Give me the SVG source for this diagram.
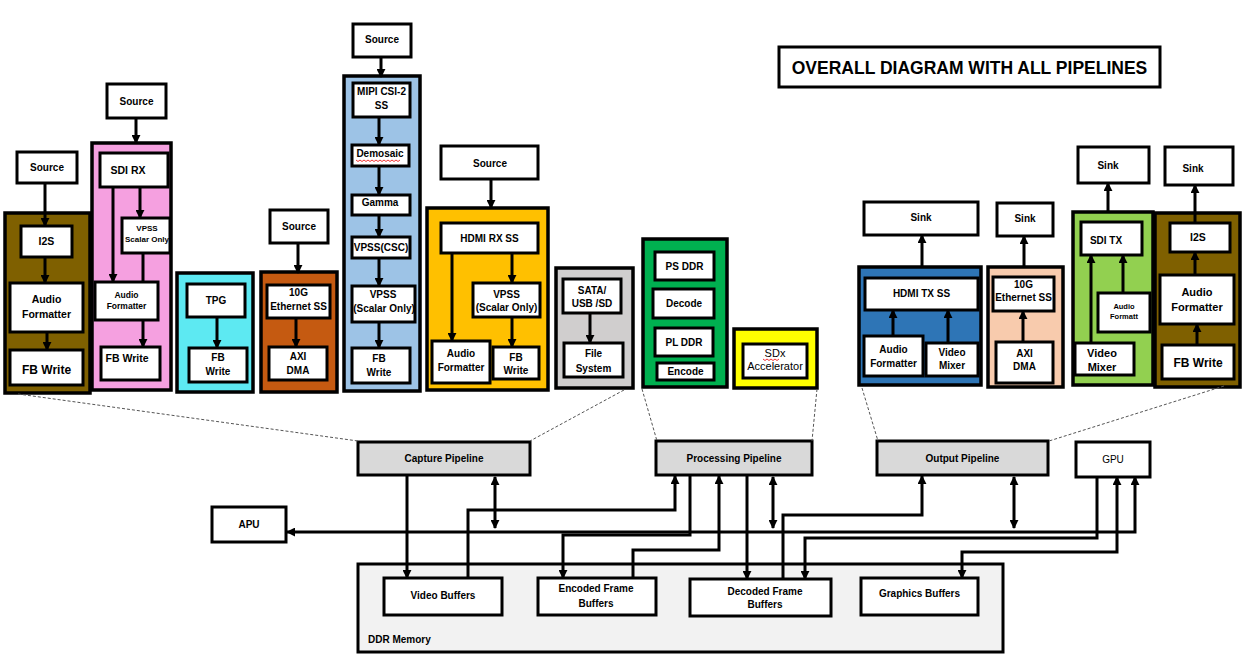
<svg xmlns="http://www.w3.org/2000/svg" width="1246" height="663" viewBox="0 0 1246 663">
<style>
.c{stroke:#000;stroke-width:3.5}
.b{fill:#fff;stroke:#000;stroke-width:3}
.p{fill:#d9d9d9;stroke:#000;stroke-width:3}
.t{font-family:"Liberation Sans",Arial,sans-serif;font-weight:bold;font-size:10px;fill:#000;text-anchor:middle}
.r{font-weight:normal}
.w{stroke:#000;stroke-width:3;fill:none}
.a{marker-end:url(#ah)}
.bi{marker-start:url(#ah);marker-end:url(#ah)}
.d{stroke:#555;stroke-width:1;stroke-dasharray:3 2;fill:none}
.sq{stroke:#e00;stroke-width:0.8;fill:none}
</style>
<defs>
<marker id="ah" viewBox="0 0 10 10" refX="9" refY="5" markerWidth="9" markerHeight="9" markerUnits="userSpaceOnUse" orient="auto-start-reverse"><path d="M0,0 L10,5 L0,10 z" fill="#000"/></marker>
</defs>
<rect width="1246" height="663" fill="#fff"/>

<g id="title"><rect x="779" y="47" width="381" height="40" class="b" stroke-width="2.5"/><text class="t" x="969.5" y="73.5" style="font-size:17.5px">OVERALL DIAGRAM WITH ALL PIPELINES</text></g>

<!-- I2S capture -->
<g id="src-i2s"><rect x="17" y="152" width="60" height="31" class="b"/><text class="t" x="47" y="171">Source</text></g>
<g id="i2s-capture">
<rect x="5" y="213" width="85" height="180" class="c" fill="#7f6000"/>
<g id="i2s-in"><rect x="21" y="226" width="51" height="31" class="b"/><text class="t" x="46.5" y="245" style="font-size:10.5px">I2S</text></g>
<g id="af-in1"><rect x="10" y="283" width="73" height="49" class="b"/><text class="t" x="46.5" y="303" style="font-size:10.5px">Audio</text><text class="t" x="46.5" y="317.5" style="font-size:10.5px">Formatter</text></g>
<g id="fbw-i2s"><rect x="10" y="350" width="73" height="35" class="b"/><text class="t" x="46.5" y="373.5" style="font-size:12px">FB Write</text></g>
</g>

<!-- SDI RX -->
<g id="src-sdi"><rect x="107" y="84" width="59" height="34" class="b"/><text class="t" x="136.5" y="104.5">Source</text></g>
<g id="sdi-capture">
<rect x="92" y="143" width="79" height="247" class="c" fill="#f5a0e0"/>
<g id="sdi-rx"><rect x="100" y="153" width="68" height="34" class="b"/><text class="t" x="128" y="174" style="font-size:10.5px">SDI RX</text></g>
<g id="vpss-sdi"><rect x="122" y="218" width="48" height="35" class="b"/><text class="t" x="147" y="231" style="font-size:8px">VPSS</text><text class="t" x="147" y="242" style="font-size:8px">Scalar Only</text></g>
<g id="af-sdi"><rect x="95" y="282" width="63" height="38" class="b"/><text class="t" x="126.5" y="298" style="font-size:8.5px">Audio</text><text class="t" x="126.5" y="309" style="font-size:8.5px">Formatter</text></g>
<g id="fbw-sdi"><rect x="101" y="347" width="59" height="33" class="b"/><text class="t" x="127" y="361.5" style="font-size:10.5px">FB Write</text></g>
</g>

<!-- TPG -->
<g id="tpg-capture">
<rect x="177" y="273" width="76" height="119" class="c" fill="#5de9f2"/>
<g id="tpg"><rect x="187" y="284" width="58" height="33" class="b"/><text class="t" x="216" y="304">TPG</text></g>
<g id="fbw-tpg"><rect x="189" y="348" width="58" height="34" class="b"/><text class="t" x="218" y="360.5">FB</text><text class="t" x="218" y="374.5">Write</text></g>
</g>

<!-- 10G capture -->
<g id="src-eth"><rect x="270" y="210" width="58" height="33" class="b"/><text class="t" x="299" y="230">Source</text></g>
<g id="eth-capture">
<rect x="261" y="272" width="76" height="120" class="c" fill="#c55a11"/>
<g id="eth-in"><rect x="267" y="285" width="63" height="33" class="b"/><text class="t" x="298.5" y="295.5">10G</text><text class="t" x="298.5" y="309.5">Ethernet SS</text></g>
<g id="axi-in"><rect x="269" y="347" width="58" height="33" class="b"/><text class="t" x="298" y="359.5">AXI</text><text class="t" x="298" y="373.5">DMA</text></g>
</g>

<!-- MIPI -->
<g id="src-mipi"><rect x="353" y="24" width="58" height="33" class="b"/><text class="t" x="382" y="43">Source</text></g>
<g id="mipi-capture">
<rect x="344" y="76" width="76" height="315" class="c" fill="#9dc3e6"/>
<g id="mipi"><rect x="353" y="83" width="57" height="34" class="b"/><text class="t" x="381.5" y="94.5">MIPI CSI-2</text><text class="t" x="381.5" y="108.5">SS</text></g>
<g id="demosaic"><rect x="352" y="145" width="57" height="21" class="b"/><text class="t" x="380" y="156.5">Demosaic</text><path class="sq" d="M356,160 l2,1.5 l2,-1.5 l2,1.5 l2,-1.5 l2,1.5 l2,-1.5 l2,1.5 l2,-1.5 l2,1.5 l2,-1.5 l2,1.5 l2,-1.5 l2,1.5 l2,-1.5 l2,1.5 l2,-1.5 l2,1.5 l2,-1.5 l2,1.5 l2,-1.5 l2,1.5 l2,-1.5"/></g>
<g id="gamma"><rect x="352" y="195" width="58" height="20" class="b"/><text class="t" x="380" y="205.5">Gamma</text></g>
<g id="vpss-csc"><rect x="352" y="237" width="58" height="21" class="b"/><text class="t" x="381" y="250.5">VPSS(CSC)</text></g>
<g id="vpss-mipi"><rect x="352" y="286" width="63" height="36" class="b"/><text class="t" x="383" y="297.5">VPSS</text><text class="t" x="384" y="311.5">(Scalar Only)</text></g>
<g id="fbw-mipi"><rect x="352" y="348" width="58" height="35" class="b"/><text class="t" x="379" y="361.5">FB</text><text class="t" x="379" y="375.5">Write</text></g>
</g>

<!-- HDMI RX -->
<g id="src-hdmi"><rect x="441" y="146" width="97" height="33" class="b"/><text class="t" x="490" y="166.5">Source</text></g>
<g id="hdmi-capture">
<rect x="427" y="208" width="121" height="182" class="c" fill="#ffc000"/>
<g id="hdmi-rx"><rect x="441" y="223" width="97" height="30" class="b"/><text class="t" x="489.5" y="241.5">HDMI RX SS</text></g>
<g id="vpss-hdmi"><rect x="473" y="283" width="67" height="34" class="b"/><text class="t" x="506.5" y="297.5">VPSS</text><text class="t" x="506.5" y="310.5">(Scalar Only)</text></g>
<g id="af-hdmi"><rect x="432" y="341" width="58" height="42" class="b"/><text class="t" x="461" y="356.5">Audio</text><text class="t" x="461" y="370.5">Formatter</text></g>
<g id="fbw-hdmi"><rect x="493" y="347" width="46" height="32" class="b"/><text class="t" x="516" y="360.5">FB</text><text class="t" x="516" y="373.5">Write</text></g>
</g>

<!-- SATA -->
<g id="sata-capture">
<rect x="556" y="268" width="77" height="120" class="c" fill="#d0cece"/>
<g id="sata"><rect x="563" y="279" width="58" height="34" class="b"/><text class="t" x="592" y="293.5">SATA/</text><text class="t" x="592" y="306.5">USB /SD</text></g>
<g id="filesystem"><rect x="564" y="343" width="59" height="34" class="b"/><text class="t" x="593.5" y="356.5">File</text><text class="t" x="593.5" y="371.5">System</text></g>
</g>

<!-- Processing -->
<g id="proc-group">
<rect x="643" y="239" width="84" height="148" class="c" fill="#00b050"/>
<g id="ps-ddr"><rect x="655" y="252" width="59" height="28" class="b"/><text class="t" x="684.5" y="269.5">PS DDR</text></g>
<g id="decode"><rect x="653" y="289" width="61" height="29" class="b"/><text class="t" x="684" y="307">Decode</text></g>
<g id="pl-ddr"><rect x="655" y="328" width="58" height="28" class="b"/><text class="t" x="684" y="345.5">PL DDR</text></g>
<g id="encode"><rect x="657" y="363" width="57" height="17" class="b"/><text class="t" x="685.5" y="375">Encode</text></g>
</g>
<g id="sdx-group">
<rect x="734" y="329" width="83" height="59" class="c" fill="#ffff00"/>
<g id="sdx"><rect x="743" y="344" width="64" height="34" class="b"/><text class="t r" x="775" y="357" style="font-size:11px">SDx</text><path class="sq" d="M763,359 l2,1.5 l2,-1.5 l2,1.5 l2,-1.5 l2,1.5 l2,-1.5 l2,1.5 l2,-1.5"/><text class="t r" x="775" y="370" style="font-size:11px">Accelerator</text></g>
</g>

<!-- HDMI TX -->
<g id="sink-hdmi"><rect x="864" y="202" width="114" height="33" class="b"/><text class="t" x="921" y="221">Sink</text></g>
<g id="hdmi-output">
<rect x="859" y="267" width="122" height="118" class="c" fill="#2e75b6"/>
<g id="hdmi-tx"><rect x="865" y="278" width="113" height="32" class="b"/><text class="t" x="921.5" y="297">HDMI TX SS</text></g>
<g id="af-tx"><rect x="864" y="336" width="59" height="40" class="b"/><text class="t" x="893.5" y="352.5">Audio</text><text class="t" x="893.5" y="366.5">Formatter</text></g>
<g id="vm-tx"><rect x="926" y="343" width="52" height="33" class="b"/><text class="t" x="952" y="355.5">Video</text><text class="t" x="952" y="368.5">Mixer</text></g>
</g>

<!-- 10G out -->
<g id="sink-eth"><rect x="997" y="203" width="56" height="33" class="b"/><text class="t" x="1025" y="222">Sink</text></g>
<g id="eth-output">
<rect x="988" y="267" width="75" height="120" class="c" fill="#f8cbad"/>
<g id="eth-out"><rect x="993" y="277" width="61" height="34" class="b"/><text class="t" x="1023.5" y="287.5">10G</text><text class="t" x="1023.5" y="300.5">Ethernet SS</text></g>
<g id="axi-out"><rect x="996" y="342" width="57" height="41" class="b"/><text class="t" x="1024.5" y="356.5">AXI</text><text class="t" x="1024.5" y="369.5">DMA</text></g>
</g>

<!-- SDI TX -->
<g id="sink-sdi"><rect x="1078" y="147" width="71" height="36" class="b"/><text class="t" x="1108" y="168.5">Sink</text></g>
<g id="sdi-output">
<rect x="1073" y="212" width="80" height="173" class="c" fill="#92d050"/>
<g id="sdi-tx"><rect x="1081" y="222" width="61" height="33" class="b"/><text class="t" x="1106" y="243.5">SDI TX</text></g>
<g id="af-sditx"><rect x="1098" y="293" width="52" height="39" class="b"/><text class="t" x="1124" y="308.5" style="font-size:7.5px">Audio</text><text class="t" x="1124" y="318.5" style="font-size:7.5px">Formatt</text></g>
<g id="vm-sditx"><rect x="1075" y="343" width="59" height="32" class="b"/><text class="t" x="1102" y="357" style="font-size:11px">Video</text><text class="t" x="1102" y="371" style="font-size:11px">Mixer</text></g>
</g>

<!-- I2S out -->
<g id="sink-i2s"><rect x="1165" y="147" width="68" height="38" class="b"/><text class="t" x="1193" y="171.5">Sink</text></g>
<g id="i2s-output">
<rect x="1155" y="213" width="85" height="174" class="c" fill="#7f6000"/>
<g id="i2s-out"><rect x="1170" y="223" width="60" height="29" class="b"/><text class="t" x="1198" y="241" style="font-size:10.5px">I2S</text></g>
<g id="af-out"><rect x="1160" y="275" width="74" height="49" class="b"/><text class="t" x="1197" y="296" style="font-size:11px">Audio</text><text class="t" x="1197" y="311" style="font-size:11px">Formatter</text></g>
<g id="fbw-out"><rect x="1162" y="345" width="72" height="34" class="b"/><text class="t" x="1198" y="366.5" style="font-size:12px">FB Write</text></g>
</g>

<!-- bottom -->
<g id="capture-pipeline"><rect x="358" y="442" width="172" height="33" class="p"/><text class="t" x="444" y="462">Capture Pipeline</text></g>
<g id="processing-pipeline"><rect x="656" y="441" width="156" height="34" class="p"/><text class="t" x="734" y="461.5">Processing Pipeline</text></g>
<g id="output-pipeline"><rect x="877" y="441" width="171" height="34" class="p"/><text class="t" x="962.5" y="461.5">Output Pipeline</text></g>
<g id="gpu"><rect x="1076" y="442" width="74" height="35" class="b"/><text class="t r" x="1113" y="463">GPU</text></g>
<g id="apu"><rect x="212" y="507" width="74" height="35" class="b"/><text class="t" x="249" y="528">APU</text></g>
<g id="ddr-memory">
<rect x="358" y="564" width="645" height="88" fill="#f2f2f2" stroke="#000" stroke-width="3"/>
<text class="t" x="368" y="643" style="text-anchor:start">DDR Memory</text>
<g id="video-buffers"><rect x="384" y="578" width="118" height="37" class="b"/><text class="t" x="443" y="599">Video Buffers</text></g>
<g id="encoded-buffers"><rect x="538" y="578" width="118" height="37" class="b"/><text class="t" x="596" y="591.5">Encoded Frame</text><text class="t" x="596" y="606.5">Buffers</text></g>
<g id="decoded-buffers"><rect x="690" y="579" width="141" height="37" class="b"/><text class="t" x="765" y="594.5">Decoded Frame</text><text class="t" x="765" y="607.5">Buffers</text></g>
<g id="graphics-buffers"><rect x="861" y="578" width="117" height="37" class="b"/><text class="t" x="919.5" y="596.5">Graphics Buffers</text></g>
</g>

<g id="connectors">
<!-- top arrows -->
<path class="w a" d="M45,183 V226"/>
<path class="w a" d="M45,257 V283"/>
<path class="w a" d="M47,332 V350"/>
<path class="w a" d="M136,118 V143"/>
<path class="w a" d="M113,187 V282"/>
<path class="w a" d="M140,187 V218"/>
<path class="w" d="M143,253 V282"/>
<path class="w a" d="M143,320 V347"/>
<path class="w a" d="M217,317 V348"/>
<path class="w a" d="M298,243 V273"/>
<path class="w a" d="M296,318 V347"/>
<path class="w a" d="M381,57 V77"/>
<path class="w a" d="M379,117 V145"/>
<path class="w a" d="M379,166 V195"/>
<path class="w a" d="M379,215 V237"/>
<path class="w a" d="M379,258 V286"/>
<path class="w a" d="M379,322 V348"/>
<path class="w a" d="M491,179 V208"/>
<path class="w a" d="M452,253 V341"/>
<path class="w a" d="M512,253 V283"/>
<path class="w a" d="M512,317 V347"/>
<path class="w a" d="M590,313 V343"/>
<path class="w a" d="M922,267 V235"/>
<path class="w a" d="M893,336 V310"/>
<path class="w a" d="M948,343 V310"/>
<path class="w a" d="M1024,267 V236"/>
<path class="w a" d="M1023,342 V311"/>
<path class="w a" d="M1108,212 V183"/>
<path class="w a" d="M1091,343 V255"/>
<path class="w a" d="M1123,293 V255"/>
<path class="w a" d="M1195,223 V185"/>
<path class="w a" d="M1195,275 V252"/>
<path class="w a" d="M1197,345 V324"/>
<!-- dashed -->
<path class="d" d="M18,394 L358,441"/>
<path class="d" d="M624,390 L530,441"/>
<path class="d" d="M642,389 L657,441"/>
<path class="d" d="M817,389 L812,441"/>
<path class="d" d="M862,388 L878,441"/>
<path class="d" d="M1224,386 L1049,441"/>
<!-- bottom -->
<path class="w a" d="M407,475 V578"/>
<path class="w bi" d="M495,477 V528"/>
<path class="w a" d="M468,578 V510 H675 V476"/>
<path class="w bi" d="M287,532 H1135 V477"/>
<path class="w a" d="M690,475 V535 H563 V578"/>
<path class="w a" d="M633,578 V550 H719 V476"/>
<path class="w a" d="M747,475 V579"/>
<path class="w bi" d="M773,477 V528"/>
<path class="w a" d="M783,579 V515 H922 V476"/>
<path class="w bi" d="M1014,477 V528"/>
<path class="w a" d="M1097,477 V538 H805 V579"/>
<path class="w bi" d="M962,578 V552 H1117 V477"/>
</g>
</svg>
